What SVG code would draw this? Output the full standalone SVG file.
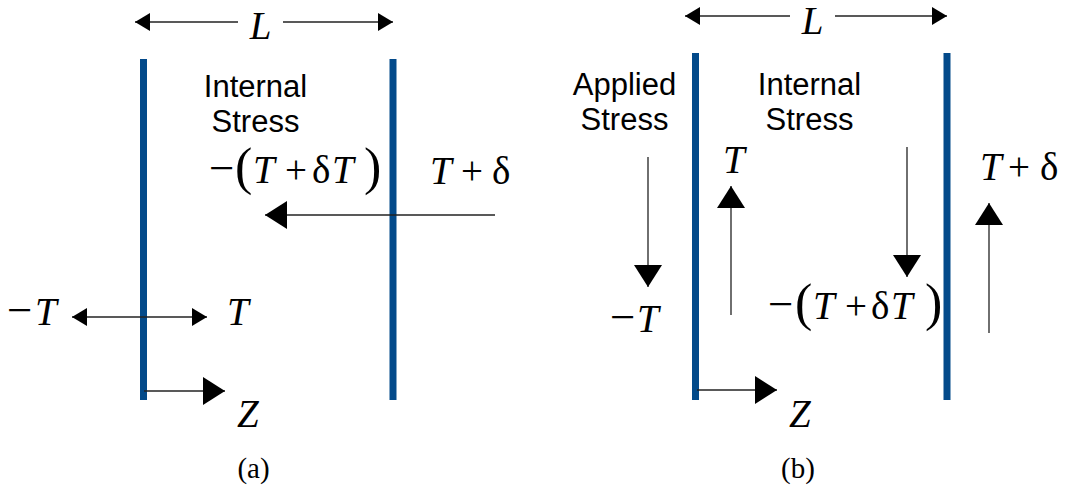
<svg xmlns="http://www.w3.org/2000/svg" width="1067" height="492" viewBox="0 0 1067 492">
<defs>
<marker id="sm" markerUnits="userSpaceOnUse" markerWidth="15" markerHeight="18" viewBox="0 0 15 18" refX="15" refY="9" orient="auto-start-reverse"><path d="M0,0 L15,9 L0,18 Z" fill="#000"/></marker>
<marker id="bg" markerUnits="userSpaceOnUse" markerWidth="22" markerHeight="28" viewBox="0 0 22 28" refX="22" refY="14" orient="auto-start-reverse"><path d="M0,0 L22,14 L0,28 Z" fill="#000"/></marker>
<style>
.bar{stroke:#034a8a;stroke-width:7;}
.ln{stroke:#222;stroke-width:1.3;fill:none;}
.sa{marker-end:url(#sm);}
.ba{marker-end:url(#bg);}
.lbl{font-family:"Liberation Sans",Arial,sans-serif;font-size:31px;fill:#000;text-anchor:middle;}
.m{font-family:"Liberation Serif","Times New Roman",serif;font-size:39px;fill:#000;}
.i{font-style:italic;}
.p{font-size:52px;}
.mn{font-size:45px;}
.cap{font-family:"Liberation Serif","Times New Roman",serif;font-size:29px;fill:#000;text-anchor:middle;}
</style>
</defs>
<rect width="1067" height="492" fill="#fff"/>

<g id="panel-a">
  <g id="a-bar-left"><line class="bar" x1="143.5" y1="59" x2="143.5" y2="400"/></g>
  <g id="a-bar-right"><line class="bar" x1="393" y1="59" x2="393" y2="400"/></g>
  <g id="a-dim-label"><text class="m i" x="260.5" y="39" text-anchor="middle">L</text></g>
  <g id="a-internal"><text class="lbl" x="255.5" y="97">Internal</text><text class="lbl" x="255.5" y="132">Stress</text></g>
  <g id="a-int-val"><text class="m" y="183"><tspan class="mn" x="209">−</tspan><tspan class="p" x="235" y="184">(</tspan><tspan class="i" x="253" y="183">T</tspan><tspan x="285">+</tspan><tspan x="312">δ</tspan><tspan class="i" x="332">T</tspan><tspan class="p" x="364" y="184">)</tspan></text></g>
  <g id="a-app-val"><text class="m" y="184"><tspan class="i" x="430">T</tspan><tspan x="461">+</tspan><tspan x="492">δ</tspan></text></g>
  <g id="a-negT"><text class="m" y="325"><tspan class="mn" x="7">−</tspan><tspan class="i" x="35">T</tspan></text></g>
  <g id="a-T"><text class="m i" x="227" y="325">T</text></g>
  <g id="a-Z"><text class="m i" x="237" y="427">Z</text></g>
  <g id="a-cap"><text class="cap" x="253.5" y="478">(a)</text></g>
</g>

<g id="panel-b">
  <g id="b-bar-left"><line class="bar" x1="695.5" y1="53" x2="695.5" y2="400"/></g>
  <g id="b-bar-right"><line class="bar" x1="947" y1="53" x2="947" y2="400"/></g>
  <g id="b-dim-label"><text class="m i" x="812.5" y="34" text-anchor="middle">L</text></g>
  <g id="b-applied"><text class="lbl" x="624.5" y="95">Applied</text><text class="lbl" x="624.5" y="130">Stress</text></g>
  <g id="b-internal"><text class="lbl" x="809.5" y="95">Internal</text><text class="lbl" x="809.5" y="130">Stress</text></g>
  <g id="b-negT"><text class="m" y="332"><tspan class="mn" x="610">−</tspan><tspan class="i" x="637">T</tspan></text></g>
  <g id="b-T"><text class="m i" x="723" y="173">T</text></g>
  <g id="b-int-val"><text class="m" y="319"><tspan class="mn" x="768">−</tspan><tspan class="p" x="795" y="320">(</tspan><tspan class="i" x="813" y="319">T</tspan><tspan x="845">+</tspan><tspan x="871">δ</tspan><tspan class="i" x="891">T</tspan><tspan class="p" x="925" y="320">)</tspan></text></g>
  <g id="b-app-val"><text class="m" y="180"><tspan class="i" x="980">T</tspan><tspan x="1008">+</tspan><tspan x="1040">δ</tspan></text></g>
  <g id="b-Z"><text class="m i" x="789" y="427">Z</text></g>
  <g id="b-cap"><text class="cap" x="798" y="478">(b)</text></g>
</g>

<g id="connectors">
  <line class="ln sa" x1="238" y1="22" x2="135" y2="22"/>
  <line class="ln sa" x1="283" y1="22" x2="393" y2="22"/>
  <line class="ln ba" x1="495" y1="215" x2="265" y2="215"/>
  <line class="ln" x1="72" y1="317" x2="207" y2="317" marker-start="url(#sm)" marker-end="url(#sm)"/>
  <line class="ln ba" x1="144" y1="391" x2="225" y2="391"/>

  <line class="ln sa" x1="790" y1="16" x2="685" y2="16"/>
  <line class="ln sa" x1="835" y1="16" x2="947" y2="16"/>
  <line class="ln ba" x1="648" y1="157" x2="648" y2="287"/>
  <line class="ln ba" x1="731" y1="315" x2="731" y2="186"/>
  <line class="ln ba" x1="907" y1="147" x2="907" y2="277"/>
  <line class="ln ba" x1="989" y1="333" x2="989" y2="203"/>
  <line class="ln ba" x1="697" y1="390" x2="777" y2="390"/>
</g>
</svg>
